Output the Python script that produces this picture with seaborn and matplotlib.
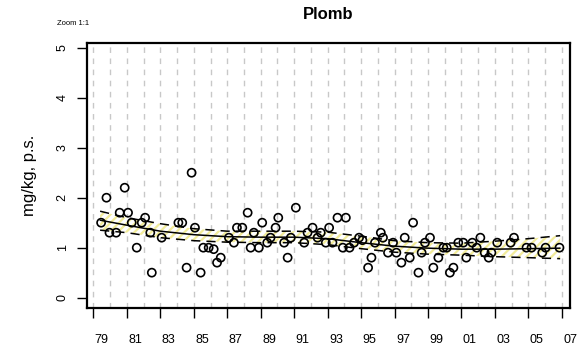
import numpy as np
import pandas as pd
import matplotlib
matplotlib.use('Agg')
import matplotlib.pyplot as plt
import seaborn as sns

# valeurs (annee decimale, mg/kg p.s.)
annees = [1979.46, 1979.78, 1979.96, 1980.36, 1980.57, 1980.87, 1981.07, 1981.29, 1981.59, 1981.89,
          1982.09, 1982.40, 1982.49, 1983.08, 1984.08, 1984.31, 1984.57, 1984.87, 1985.07, 1985.41,
          1985.57, 1985.89, 1986.19, 1986.39, 1986.61, 1987.10, 1987.40, 1987.58, 1987.90, 1988.22,
          1988.40, 1988.59, 1988.89, 1989.09, 1989.39, 1989.59, 1989.89, 1990.05, 1990.40, 1990.61,
          1990.80, 1991.10, 1991.60, 1991.80, 1992.10, 1992.40, 1992.59, 1992.89, 1993.09, 1993.29,
          1993.59, 1993.91, 1994.09, 1994.31, 1994.58, 1994.88, 1995.08, 1995.42, 1995.62, 1995.83,
          1996.18, 1996.31, 1996.61, 1996.91, 1997.11, 1997.41, 1997.61, 1997.91, 1998.11, 1998.43,
          1998.62, 1998.82, 1999.12, 1999.32, 1999.62, 1999.92, 2000.12, 2000.31, 2000.52, 2000.81,
          2001.11, 2001.29, 2001.65, 2001.91, 2002.13, 2002.39, 2002.63, 2002.79, 2003.14, 2003.94,
          2004.14, 2004.89, 2005.19, 2005.83, 2006.03, 2006.86]
plomb = [1.5, 2.0, 1.3, 1.3, 1.7, 2.2, 1.7, 1.5, 1.0, 1.5,
         1.6, 1.3, 0.5, 1.2, 1.5, 1.5, 0.6, 2.5, 1.4, 0.5,
         1.0, 1.0, 0.97, 0.7, 0.8, 1.2, 1.1, 1.4, 1.4, 1.7,
         1.0, 1.3, 1.0, 1.5, 1.1, 1.2, 1.4, 1.6, 1.1, 0.8,
         1.2, 1.8, 1.1, 1.3, 1.4, 1.2, 1.3, 1.1, 1.4, 1.1,
         1.6, 1.0, 1.6, 1.0, 1.1, 1.2, 1.15, 0.6, 0.8, 1.1,
         1.3, 1.2, 0.9, 1.1, 0.9, 0.7, 1.2, 0.8, 1.5, 0.5,
         0.9, 1.1, 1.2, 0.6, 0.8, 1.0, 1.0, 0.5, 0.6, 1.1,
         1.1, 0.8, 1.1, 1.0, 1.2, 0.9, 0.8, 0.9, 1.1, 1.1,
         1.2, 1.0, 1.0, 0.9, 1.0, 1.0]

# tendance lissee et intervalle de confiance
tend_annees = [1979.4, 1981, 1983, 1985, 1987, 1989, 1991, 1993, 1995, 1997, 1999, 2001, 2003, 2005, 2006.9]
tend_mid = [1.55, 1.45, 1.33, 1.26, 1.22, 1.21, 1.21, 1.18, 1.10, 1.03, 0.99, 0.97, 0.97, 0.98, 0.99]
tend_hi = [1.73, 1.60, 1.48, 1.38, 1.33, 1.33, 1.33, 1.31, 1.23, 1.14, 1.10, 1.09, 1.13, 1.18, 1.24]
tend_lo = [1.35, 1.30, 1.20, 1.14, 1.11, 1.10, 1.10, 1.06, 0.98, 0.91, 0.87, 0.85, 0.82, 0.80, 0.78]

ans_ticks = list(range(1979, 2008, 2))
ans_labels = [f'{a % 100:02d}' for a in ans_ticks]

df = pd.DataFrame({'annee': annees, 'plomb': plomb})
df_tend = pd.DataFrame({'annee': tend_annees, 'mid': tend_mid, 'hi': tend_hi, 'lo': tend_lo})

sns.set_style('white')
plt.rcParams['font.family'] = ['Liberation Sans', 'DejaVu Sans']
plt.rcParams['text.color'] = 'black'
plt.rcParams['axes.labelcolor'] = 'black'
plt.rcParams['xtick.color'] = 'black'
plt.rcParams['ytick.color'] = 'black'
plt.rcParams['hatch.color'] = '#F2EC9A'
plt.rcParams['hatch.linewidth'] = 1.6

fig = plt.figure(figsize=(5.86, 3.54), dpi=100)
ax = fig.add_axes([0.148, 0.131, 0.825, 0.748])

# lignes verticales pointillees pour chaque annee
for a in range(1979, 2008):
    ax.axvline(a, color='#C8C8C8', lw=1, ls=(0, (4, 4)), zorder=0)

ax.fill_between(df_tend['annee'], df_tend['lo'], df_tend['hi'], facecolor='white',
                hatch='////', edgecolor='#F2EC9A', lw=0, zorder=1)
sns.lineplot(data=df_tend, x='annee', y='mid', color='black', lw=1.1, ax=ax, zorder=3)
sns.lineplot(data=df_tend, x='annee', y='hi', color='black', lw=1.1, ax=ax, zorder=3)
sns.lineplot(data=df_tend, x='annee', y='lo', color='black', lw=1.1, ax=ax, zorder=3)
for l in ax.lines[-2:]:
    l.set_dashes((6, 4))

sns.scatterplot(data=df, x='annee', y='plomb', marker='o', s=34, facecolor='none',
                edgecolor='black', linewidth=1.2, ax=ax, zorder=4)

ax.set_xlim(1978.6, 2007.46)
ax.set_ylim(-0.2, 5.1)
ax.set_xticks(ans_ticks)
ax.set_xticklabels([])
ax.set_xticks([a + 0.5 for a in ans_ticks], minor=True)
ax.set_xticklabels(ans_labels, minor=True)
ax.tick_params(axis='x', which='major', length=7, width=1, direction='out', bottom=True)
ax.tick_params(axis='x', which='minor', length=0, pad=19, labelsize=9, bottom=True)
ax.set_yticks([0, 1, 2, 3, 4, 5])
ax.set_yticklabels(['0', '1', '2', '3', '4', '5'], rotation=90, va='center')
ax.tick_params(axis='y', length=7, width=1, direction='out', labelsize=9, pad=6, left=True)

for s in ax.spines.values():
    s.set_visible(True)
    s.set_color('black')
    s.set_linewidth(1.6)

ax.set_xlabel('')
ax.set_ylabel('mg/kg, p.s.', fontsize=12, labelpad=14)
ax.set_title('Plomb', fontsize=12, fontweight='bold', pad=17)
fig.text(0.097, 0.93, 'Zoom 1:1', fontsize=5.5)

plt.savefig('out.png', dpi=100)
